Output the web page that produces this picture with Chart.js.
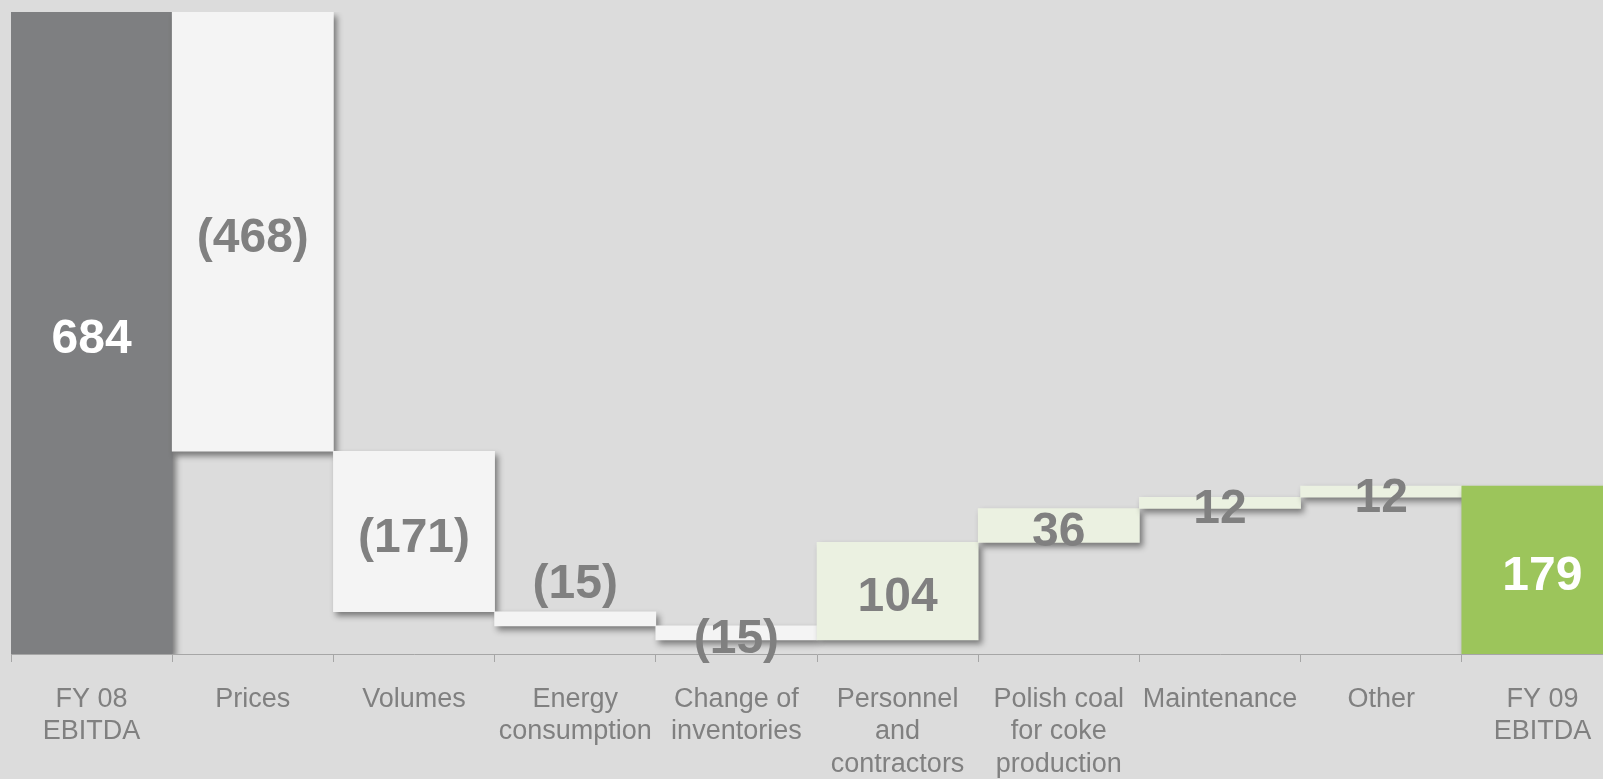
<!DOCTYPE html>
<html>
<head>
<meta charset="utf-8">
<script src="https://cdn.jsdelivr.net/npm/chart.js@4.4.1/dist/chart.umd.min.js"></script>
<style>
  html, body { margin: 0; padding: 0; background: #dcdcdc; overflow: hidden; }
  #wrap { width: 1623px; height: 779px; position: relative; }
</style>
</head>
<body>
<div id="wrap"><canvas id="bridge"></canvas></div>
<script>
// --- EBITDA bridge FY 08 -> FY 09 -----------------------------------------

var categories = [
    ["FY 08", "EBITDA"],
    "Prices",
    "Volumes",
    ["Energy", "consumption"],
    ["Change of", "inventories"],
    ["Personnel", "and", "contractors"],
    ["Polish coal", "for coke", "production"],
    "Maintenance",
    "Other",
    ["FY 09", "EBITDA"]
];

// change per step; first and last are totals
var deltas = [684, -468, -171, -15, -15, 104, 36, 12, 12, 179];
var isTotal = [true, false, false, false, false, false, false, false, false, true];
var valueLabels = ["684", "(468)", "(171)", "(15)", "(15)", "104", "36", "12", "12", "179"];

// which value labels sit above their bar instead of inside
var labelAbove = [false, false, false, true, false, false, false, false, false, false];

var COLOR_START = "#7e7f81";
var COLOR_DOWN = "#f4f4f4";
var COLOR_UP = "#ebf1e1";
var COLOR_END = "#9cc55b";
var TEXT_GRAY = "#808080";

function buildRanges() {
    var ranges = [];
    var running = 0;
    for (var i = 0; i < deltas.length; i++) {
        if (isTotal[i]) {
            running = deltas[i];
            ranges.push([0, deltas[i]]);
        } else {
            ranges.push([running, running + deltas[i]]);
            running += deltas[i];
        }
    }
    return ranges;
}

function barColors() {
    return deltas.map(function (d, i) {
        if (i === 0) return COLOR_START;
        if (i === deltas.length - 1) return COLOR_END;
        return d < 0 ? COLOR_DOWN : COLOR_UP;
    });
}

var shadowPlugin = {
    id: "barShadow",
    beforeDatasetDraw: function (chart) {
        var ctx = chart.ctx;
        ctx.save();
        ctx.shadowColor = "rgba(0,0,0,0.45)";
        ctx.shadowBlur = 6;
        ctx.shadowOffsetX = 3;
        ctx.shadowOffsetY = 4;
    },
    afterDatasetDraw: function (chart) {
        chart.ctx.restore();
    }
};

var valueLabelPlugin = {
    id: "valueLabels",
    afterDatasetsDraw: function (chart) {
        var ctx = chart.ctx;
        var meta = chart.getDatasetMeta(0);
        ctx.save();
        ctx.font = "bold 48px 'Liberation Sans', Arial, sans-serif";
        ctx.textAlign = "center";
        ctx.textBaseline = "middle";
        meta.data.forEach(function (bar, i) {
            var top = Math.min(bar.y, bar.base);
            var bottom = Math.max(bar.y, bar.base);
            var y = labelAbove[i] ? top - 27 : (top + bottom) / 2 + 7;
            ctx.fillStyle = isTotal[i] ? "#ffffff" : TEXT_GRAY;
            ctx.fillText(valueLabels[i], bar.x, y);
        });
        ctx.restore();
    }
};

var ctx = document.getElementById("bridge").getContext("2d");
new Chart(ctx, {
    type: "bar",
    data: {
        labels: categories,
        datasets: [{
            data: buildRanges(),
            backgroundColor: barColors(),
            borderWidth: 0,
            borderSkipped: false,
            barPercentage: 1.0,
            categoryPercentage: 1.0
        }]
    },
    options: {
        responsive: true,
        maintainAspectRatio: false,
        animation: false,
        layout: { padding: { left: 11, top: 12, right: 0, bottom: 0 } },
        plugins: {
            legend: { display: false },
            tooltip: { enabled: false }
        },
        scales: {
            x: {
                grid: {
                    display: true,
                    drawOnChartArea: false,
                    drawTicks: true,
                    tickLength: 8,
                    color: "#a6a6a6",
                    lineWidth: 1
                },
                border: { display: true, color: "#a6a6a6", width: 1 },
                ticks: {
                    color: TEXT_GRAY,
                    padding: 21,
                    maxRotation: 0,
                    autoSkip: false,
                    font: { family: "'Liberation Sans', Arial, sans-serif", size: 27, lineHeight: 1.21 }
                },
                afterFit: function (scale) { scale.height = 125; }
            },
            y: {
                display: false,
                min: 0,
                max: 684
            }
        }
    },
    plugins: [shadowPlugin, valueLabelPlugin]
});
</script>
</body>
</html>
